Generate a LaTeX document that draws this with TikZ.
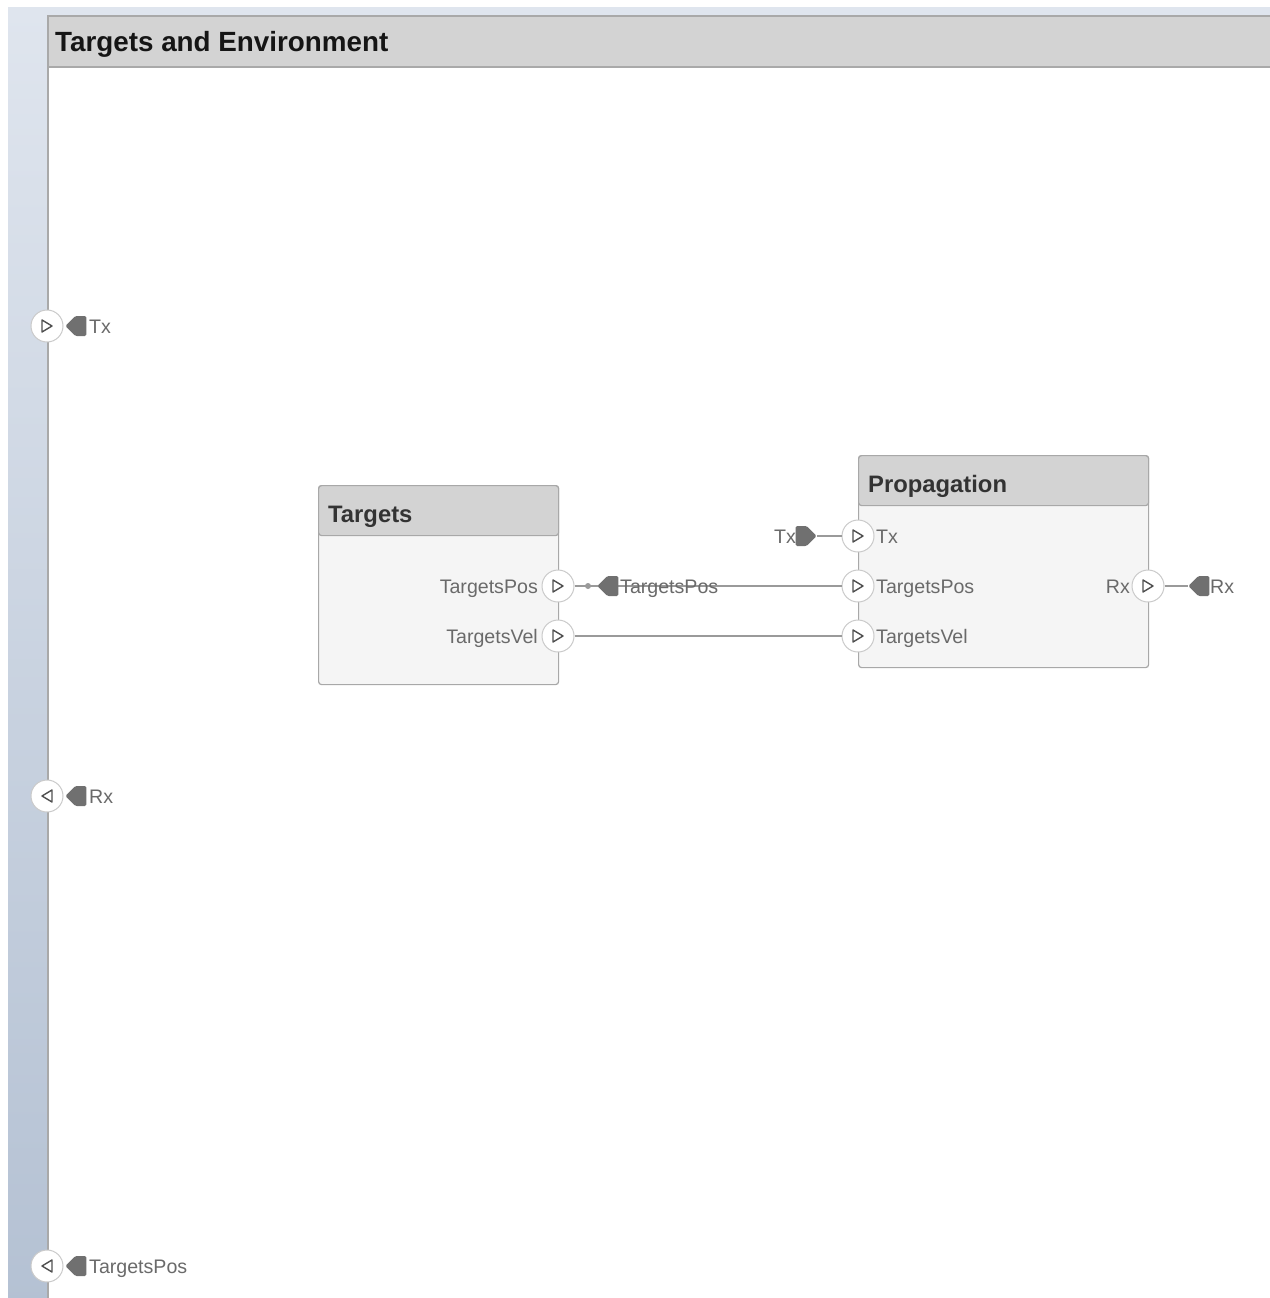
\documentclass[tikz,border=0pt]{standalone}
\usepackage{fontspec}
\setmainfont{Liberation Sans}
\usetikzlibrary{shapes.symbols}
\definecolor{bgtop}{HTML}{DFE5EE}
\definecolor{bgbot}{HTML}{B4C1D3}
\definecolor{hdr}{HTML}{D3D3D3}
\definecolor{hdrline}{HTML}{A9A9A9}
\definecolor{blkbody}{HTML}{F5F5F5}
\definecolor{blkline}{HTML}{A8A8A8}
\definecolor{lbl}{HTML}{6A6A6A}
\definecolor{tagc}{HTML}{707070}
\definecolor{wire}{HTML}{9A9A9A}
\definecolor{portline}{HTML}{CACACA}
\definecolor{tri}{HTML}{505050}
\definecolor{ttl}{HTML}{151515}
\definecolor{btl}{HTML}{333333}
\begin{document}
\begin{tikzpicture}[x=1pt,y=-1pt,
  port/.style={circle, minimum size=32pt, inner sep=0pt, fill=white, draw=portline, line width=1pt},
  portR/.style={port, path picture={\draw[tri, line width=1.4pt, line join=round]
      ([shift={(-5pt,-6pt)}]path picture bounding box.center) -- ++(0pt,12pt) -- ++(10pt,-6pt) -- cycle;}},
  portL/.style={port, path picture={\draw[tri, line width=1.4pt, line join=round]
      ([shift={(5pt,-6pt)}]path picture bounding box.center) -- ++(0pt,12pt) -- ++(-10pt,-6pt) -- cycle;}},
  tagbase/.style={signal, signal pointer angle=90, fill=tagc, minimum height=20pt, minimum width=21pt, inner sep=0pt, rounded corners=1.5pt},
  tagL/.style={tagbase, signal to=west},
  tagR/.style={tagbase, signal to=east},
  lblf/.style={inner sep=0pt, text=lbl, font=\fontsize{19.6}{22}\selectfont, text height=14pt, text depth=0pt},
  blkbox/.style={rectangle, rounded corners=3pt, fill=blkbody, draw=blkline, line width=1.2pt, inner sep=0pt, anchor=north west},
  hdrbox/.style={rectangle, rounded corners=3pt, fill=hdr, draw=blkline, line width=1.2pt, inner sep=0pt, anchor=north west},
  btitle/.style={inner sep=0pt, anchor=west, text=btl, font=\fontsize{23.8}{26}\selectfont\bfseries, text height=17pt, text depth=0pt},
  wire/.style={draw=wire, line width=1.1pt}
]
\useasboundingbox (0,0) rectangle (1269,1298);
\fill[white] (-5,-5) rectangle (1280,1310);
% background gradient
\shade[top color=bgtop, bottom color=bgbot] (8,8) rectangle (1280,1310);
% panel
\fill[white] (48,67) rectangle (1280,1310);
\fill[hdr] (48,16) rectangle (1280,67);
\draw[hdrline, line width=1.5pt] (1280,16) -- (48,16) -- (48,1310);
\draw[hdrline, line width=1.5pt] (48,67) -- (1280,67);
\node[inner sep=0pt, anchor=west, text=ttl, font=\fontsize{27.8}{30}\selectfont\bfseries, text height=20pt, text depth=0pt] (title) at (55,42) {Targets and Environment};

% Targets block
\node[blkbox, minimum width=240pt, minimum height=199pt] (tgt) at (318,485) {};
\node[hdrbox, minimum width=240pt, minimum height=50pt] (tgtH) at (318,485) {};
\node[btitle] (tgtT) at (328,514) {Targets};

% Propagation block
\node[blkbox, minimum width=290pt, minimum height=212pt] (prop) at (858,455) {};
\node[hdrbox, minimum width=290pt, minimum height=50pt] (propH) at (858,455) {};
\node[btitle] (propT) at (868,484) {Propagation};

% ports on Targets
\node[portR] (tTP) at (558,586) {};
\node[portR] (tTV) at (558,636) {};
\node[lblf, anchor=east] (tTPl) at (538,586) {TargetsPos};
\node[lblf, anchor=east] (tTVl) at (538,636) {TargetsVel};

% ports on Propagation
\node[portR] (pTx) at (858,536) {};
\node[portR] (pTP) at (858,586) {};
\node[portR] (pTV) at (858,636) {};
\node[portR] (pRx) at (1148,586) {};
\node[lblf, anchor=west] (pTxl) at (876,536) {Tx};
\node[lblf, anchor=west] (pTPl) at (876,586) {TargetsPos};
\node[lblf, anchor=west] (pTVl) at (876,636) {TargetsVel};
\node[lblf, anchor=east] (pRxl) at (1130,586) {Rx};

% tags (positions)
\node[tagR, anchor=east] (fTx) at (817,536) {};
\node[tagL, anchor=west] (gRx) at (1188,586) {};

% wires
\draw[wire] (tTP.east) -- (pTP.west);
\draw[wire] (tTV.east) -- (pTV.west);
\draw[wire] (fTx.east) -- (pTx.west);
\draw[wire] (pRx.east) -- (gRx.west);

% TargetsPos goto tag on wire
\node[circle, fill=wire, minimum size=6pt, inner sep=0pt] (dot) at (588,586) {};
\node[tagL, anchor=west] (gTP) at (597,586) {};
\node[lblf, anchor=west] (gTPl) at (620,586) {TargetsPos};

% tag labels
\node[lblf, anchor=east] (fTxl) at (796,536) {Tx};
\node[lblf, anchor=west] (gRxl) at (1210,586) {Rx};

% boundary ports
\node[portR] (bTx) at (47,326) {};
\node[portL] (bRx) at (47,796) {};
\node[portL] (bTP) at (47,1266) {};
\node[tagL, anchor=west] (bTxg) at (65,326) {};
\node[tagL, anchor=west] (bRxg) at (65,796) {};
\node[tagL, anchor=west] (bTPg) at (65,1266) {};
\node[lblf, anchor=west] (bTxl) at (89,326) {Tx};
\node[lblf, anchor=west] (bRxl) at (89,796) {Rx};
\node[lblf, anchor=west] (bTPl) at (89,1266) {TargetsPos};
\end{tikzpicture}
\end{document}
